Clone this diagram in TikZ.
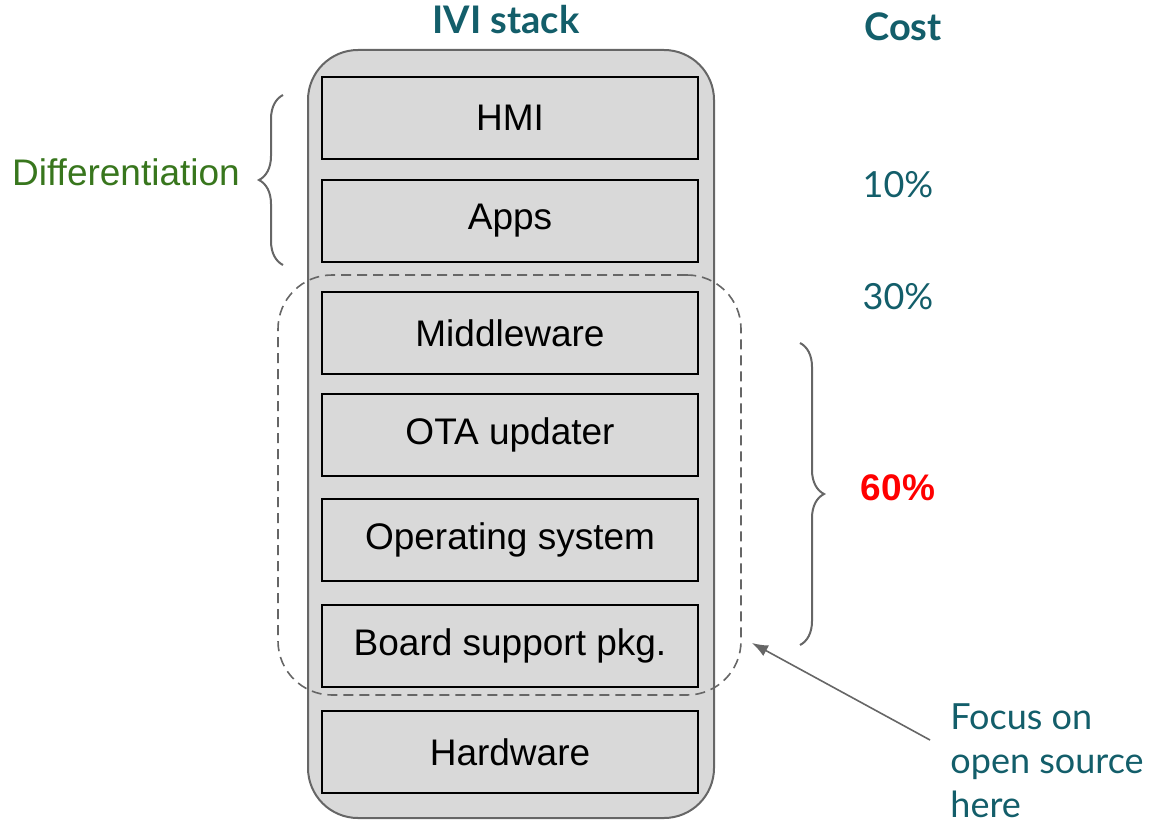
\documentclass[tikz,border=0pt]{standalone}
\usepackage{fontspec}
\setmainfont{Liberation Sans}
\newfontfamily\latofont{Lato}
\usetikzlibrary{positioning,decorations.pathreplacing,arrows.meta}
\definecolor{boxgray}{RGB}{217,217,217}
\definecolor{linegray}{RGB}{102,102,102}
\definecolor{costteal}{RGB}{19,94,106}
\definecolor{diffgreen}{RGB}{56,118,29}

\begin{document}
\begin{tikzpicture}[x=0.5pt, y=-0.5pt,
layer/.style={draw=black, line width=1pt, fill=boxgray, rectangle, minimum width=188pt, minimum height=41pt, inner sep=0pt, font=\fontsize{18.5}{22}\selectfont},
note/.style={text=costteal, font=\latofont\fontsize{18}{22}\selectfont},
bracket/.style={draw=linegray, line width=1pt, decorate, decoration={brace, amplitude=12pt}}]

\useasboundingbox (0,0) rectangle (1149,824);

% outer stack and the open source region
\node[draw=linegray, line width=1pt, fill=boxgray, rounded corners=25pt, minimum width=203pt, minimum height=384pt] (stack) at (511,434) {};
\node[draw=linegray, line width=0.8pt, dash pattern=on 5pt off 3pt, rounded corners=27pt, minimum width=231.5pt, minimum height=210pt] (oss) at (509.5,485) {};

\node[layer]				(hmi) at (510,118)		{HMI};
\node[layer, below=9.5pt of hmi]		(apps)		{Apps};
\node[layer, below=14pt of apps]		(mid)		{Middleware};
\node[layer, below=9pt of mid]		(ota)		{OTA updater};
\node[layer, below=10.5pt of ota]		(os)		{Operating system};
\node[layer, below=11pt of os]		(bsp)		{Board support pkg.};
\node[layer, below=11pt of bsp]		(hw)		{Hardware};

% titles and costs
\node[note, font=\latofont\bfseries\fontsize{19}{22}\selectfont] (title) at (506,20) {IVI stack};
\node[note, font=\latofont\bfseries\fontsize{19}{22}\selectfont] (cost) at (903,27) {Cost};
\node[note] (c10) at (898,185) {10\%};
\node[note] (c30) at (898,297) {30\%};
\node[text=red, font=\bfseries\fontsize{18.5}{22}\selectfont] (c60) at (898,488) {60\%};

% braces
\draw[bracket] (283,265) -- (283,95);
\node[text=diffgreen, font=\fontsize{18.5}{22}\selectfont] (diff) at (126,172) {Differentiation};
\draw[bracket] (800,343) -- (800,645);

% pointer to the open source region
\node[note, align=left, anchor=north west, inner sep=0pt] (focus) at (950,703) {Focus on\\open source\\here};
\coordinate (tip) at (752,643);
\draw[-{Latex[length=8pt,width=6pt]}, draw=linegray, fill=linegray, line width=0.8pt] ([xshift=-10pt,yshift=-18.5pt]focus.north west) -- (tip);

\end{tikzpicture}
\end{document}
